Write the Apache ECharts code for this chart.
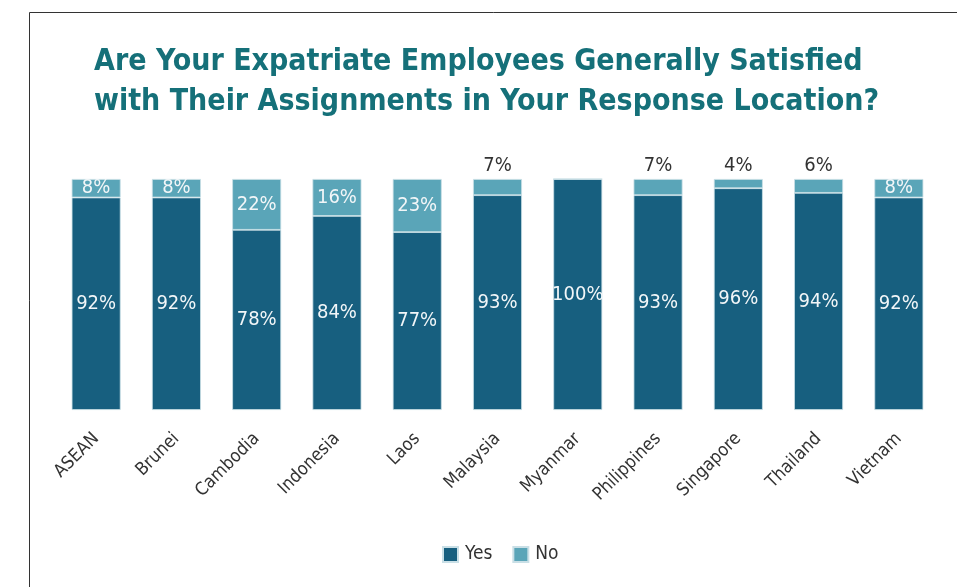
<!DOCTYPE html>
<html><head><meta charset="utf-8">
<script src="https://cdn.jsdelivr.net/npm/echarts@6/dist/echarts.min.js"></script>
<style>html,body{margin:0;padding:0;background:#fff;}#c{width:957px;height:587px;}</style>
</head><body><div id="c"></div>
<script>
const categories = ["ASEAN","Brunei","Cambodia","Indonesia","Laos","Malaysia","Myanmar","Philippines","Singapore","Thailand","Vietnam"];
const yesValues = [92,92,78,84,77,93,100,93,96,94,92];
const noValues = [8,8,22,16,23,7,0,7,4,6,8];
const seriesNames = ["Yes","No"];
const titleText = "Are Your Expatriate Employees Generally Satisfied\nwith Their Assignments in Your Response Location?";

const FONT = '"Liberation Sans Narrow","DejaVu Sans Condensed","Roboto",sans-serif';
const chart = echarts.init(document.getElementById('c'));
const noData = noValues.map(v => {
  if (v === 0) return {value: v, label: {show: false}};
  if (v <= 7) return {value: v, label: {position: 'top', color: '#333', distance: 3}};
  return {value: v};
});
chart.setOption({
  animation: false,
  graphic: [{type:'rect', left:27, top:10, shape:{width:1000, height:700}, style:{fill:'none', stroke:'#333', lineWidth:1}, silent:true}],
  title: {text: titleText, left: 89, top: 37,
    textStyle: {fontFamily: FONT, fontWeight: 'bold', fontSize: 30, color: '#157079', lineHeight: 40}},
  legend: {data: seriesNames, bottom: 18, left: 437, itemWidth: 15, itemHeight: 15, itemGap: 20,
    textStyle: {fontFamily: FONT, fontSize: 19, color: '#333', padding: [0,0,0,2]}, icon: 'rect'},
  grid: {left: 56, right: 18, top: 179, bottom: 177},
  xAxis: {type: 'category', data: categories, axisLine: {show: false}, axisTick: {show: false},
    axisLabel: {rotate: 45, margin: 26, fontFamily: FONT, fontSize: 18, color: '#333'}},
  yAxis: {type: 'value', min: 0, max: 100, show: false, splitLine: {show: false}},
  series: [
    {name: 'Yes', type: 'bar', stack: 's', barWidth: '61%', data: yesValues,
     itemStyle: {color: '#175f7f', borderColor: '#c9dfe6', borderWidth: 0.8},
     label: {show: true, position: 'inside', formatter: '{c}%', color: '#f2f6f8', fontFamily: FONT, fontSize: 20}},
    {name: 'No', type: 'bar', stack: 's', barWidth: '61%', data: noData,
     itemStyle: {color: '#5aa5b8', borderColor: '#c9dfe6', borderWidth: 0.8},
     label: {show: true, position: 'inside', formatter: '{c}%', color: '#f2f6f8', fontFamily: FONT, fontSize: 20}}
  ]
});
</script></body></html>
